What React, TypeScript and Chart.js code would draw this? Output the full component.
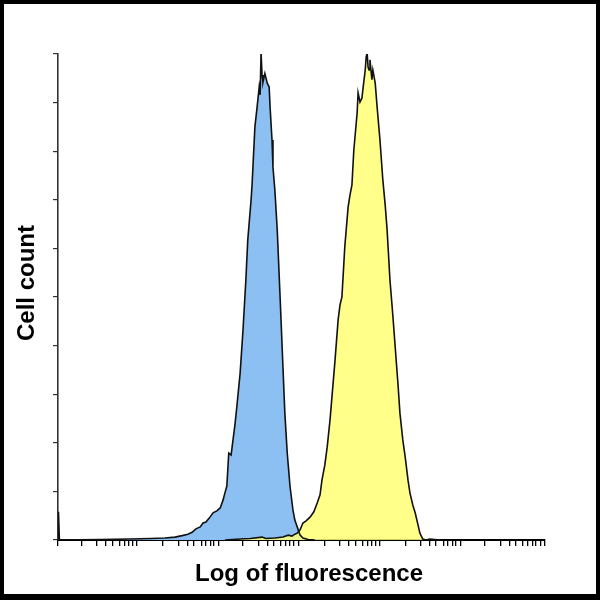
import { useEffect, useRef } from "react";
import { Chart, registerables } from "chart.js";

Chart.register(...registerables);

// channel axis (0..1024)
const xMin = 0;
const xMax = 1024;
const decadeStarts = [50, 221, 389, 561, 730, 898];
const minorOffsets = [32, 51, 65, 80, 90, 99, 107, 116];
const yMax = 100;
const yStep = 10;

// unstained / control population (blue)
const blueChannels = [
  0, 1, 3, 88, 151, 194, 225, 246, 261, 273, 282, 290, 299, 305, 311, 318, 326, 334, 341,
  347, 351, 355, 357, 359, 364, 368, 372, 376, 383, 389, 395, 399, 406, 408, 414, 418, 423,
  425, 427, 429, 431, 435, 440, 444, 446, 450, 452, 456, 461, 467, 473, 477, 482, 488, 494,
  498, 503, 509, 515, 526, 540,
];
const blueCounts = [
  0, 5.8, 0, 0.1, 0.2, 0.3, 0.4, 0.6, 0.9, 1.2, 1.6, 2.3, 2.7, 3.5, 3.7, 4.5, 5.6, 6.0, 6.6,
  8.2, 9.7, 11.1, 14.4, 17.9, 17.5, 20.6, 23.7, 27.4, 34.4, 43.2, 53.5, 61.7, 70, 73, 85, 88.5,
  93.2, 91.6, 100.2, 95.7, 94.2, 96, 94, 93.2, 89, 82.3, 76.7, 72, 63.8, 50, 35.6, 26.1, 17.9,
  10.9, 6.2, 4.1, 2.7, 1, 0.4, 0.1, 0,
];

// stained population (yellow)
const yellowChannels = [
  351, 383, 404, 429, 437, 456, 473, 484, 492, 498, 503, 509, 515, 521, 530, 538, 545, 551,
  555, 561, 566, 572, 576, 582, 589, 593, 597, 603, 610, 614, 618, 622, 629, 631, 635, 639,
  641, 646, 648, 650, 652, 654, 656, 660, 662, 667, 671, 677, 683, 688, 692, 698, 704, 709,
  715, 719, 725, 730, 736, 740, 746, 751, 757, 761, 767, 774, 782, 803,
];
const yellowCounts = [
  0, 0.2, 0.3, 0.6, 0.3, 0.4, 0.6, 1.0, 0.8, 1.2, 1.4, 2.1, 3.5, 3.9, 4.7, 5.8, 7.6, 9.3,
  12.3, 15.4, 19.1, 24.7, 29.4, 36.4, 45.3, 48.4, 50, 60.3, 68.5, 71, 73, 80.2, 87.9, 92,
  90.1, 90.9, 92.6, 96.7, 99.4, 100.2, 97.3, 96.7, 98.8, 94.7, 96.7, 94, 89.1, 82.3, 74.1,
  68.9, 63.8, 53.5, 46.3, 39.7, 31.9, 26.1, 20.6, 17.1, 12.3, 9.7, 7.2, 5.6, 3.1, 1.4, 0.2,
  0, 0.2, 0,
];

const xTitle = "Log of fluorescence";
const yTitle = "Cell count";

const toPoints = (xs: number[], ys: number[]) => xs.map((x, i) => ({ x, y: ys[i] }));

const xTickValues = [
  xMin,
  ...decadeStarts.flatMap((d) => [d, ...minorOffsets.map((o) => d + o)]),
  xMax,
];

const axisLabels = {
  id: "axisLabels",
  afterDraw(chart: Chart) {
    const { ctx, chartArea } = chart;
    ctx.save();
    ctx.fillStyle = "#000";
    ctx.font = 'bold 24px "Liberation Sans", Arial, sans-serif';
    ctx.textAlign = "center";
    ctx.textBaseline = "middle";
    ctx.fillText(xTitle, chartArea.left + 251, chartArea.bottom + 34);
    ctx.translate(chartArea.left - 31, chartArea.top + 229);
    ctx.rotate(-Math.PI / 2);
    ctx.fillText(yTitle, 0, 0);
    ctx.restore();
  },
};

export default function App() {
  const canvasRef = useRef<HTMLCanvasElement>(null);
  const chartRef = useRef<Chart | null>(null);

  useEffect(() => {
    document.body.style.margin = "0";
    if (!canvasRef.current) return;

    chartRef.current?.destroy();
    chartRef.current = new Chart(canvasRef.current, {
      type: "line",
      data: {
        datasets: [
          {
            label: "Stained",
            data: toPoints(yellowChannels, yellowCounts),
            backgroundColor: "rgba(255, 255, 112, 0.82)",
            order: 0,
          },
          {
            label: "Control",
            data: toPoints(blueChannels, blueCounts),
            backgroundColor: "#8cbff2",
            order: 1,
          },
        ],
      },
      options: {
        responsive: false,
        animation: false,
        layout: { padding: { top: 50, right: 51, left: 0, bottom: 0 } },
        elements: {
          point: { radius: 0 },
          line: { borderColor: "#111", borderWidth: 1.6, tension: 0, fill: "origin" },
        },
        plugins: {
          legend: { display: false },
          tooltip: { enabled: false },
          filler: { drawTime: "beforeDatasetsDraw" },
        },
        scales: {
          x: {
            type: "linear",
            min: xMin,
            max: xMax,
            afterBuildTicks: (scale) => {
              scale.ticks = xTickValues.map((value) => ({ value }));
            },
            afterFit: (scale) => {
              scale.height = 54;
            },
            ticks: { display: false },
            grid: { drawOnChartArea: false, drawTicks: true, tickLength: 6, color: "#000", lineWidth: 1.3 },
            border: { display: true, color: "#000", width: 2 },
          },
          y: {
            min: 0,
            max: yMax,
            ticks: { display: false, stepSize: yStep },
            afterFit: (scale) => {
              scale.width = 54;
            },
            grid: { drawOnChartArea: false, drawTicks: true, tickLength: 5, color: "#333", lineWidth: 1.2 },
            border: { display: true, color: "#333", width: 1.6 },
          },
        },
      },
      plugins: [axisLabels],
    });

    return () => {
      chartRef.current?.destroy();
    };
  }, []);

  return (
    <div
      style={{
        width: 600,
        height: 600,
        boxSizing: "border-box",
        borderStyle: "solid",
        borderColor: "#000",
        borderWidth: "4px 4px 6px 4px",
        background: "#fff",
      }}
    >
      <canvas ref={canvasRef} width={592} height={590} style={{ display: "block", width: 592, height: 590 }} />
    </div>
  );
}
